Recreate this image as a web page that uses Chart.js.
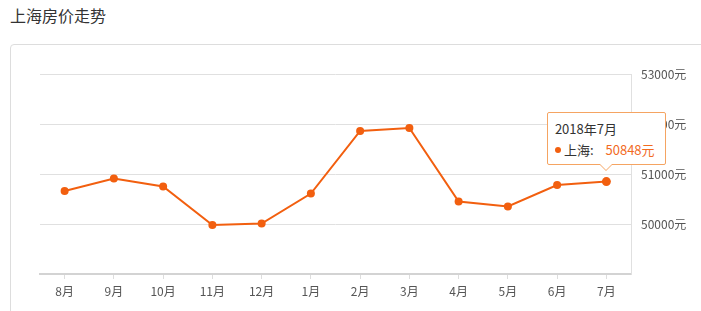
<!DOCTYPE html>
<html>
<head>
<meta charset="utf-8">
<script src="https://cdn.jsdelivr.net/npm/chart.js@4/dist/chart.umd.min.js"></script>
<style>
  html, body { margin: 0; padding: 0; background: #fff; width: 701px; height: 311px; overflow: hidden; }
  body { position: relative; font-family: 'Noto Sans CJK SC', 'Noto Sans', sans-serif; }
  #title { position: absolute; left: 10px; top: 4px; font-size: 16px; color: #333; line-height: 22px; }
  #card { position: absolute; left: 10px; top: 44px; width: 720px; height: 300px; border: 1px solid #ddd; border-radius: 4px; box-sizing: border-box; }
  #c { position: absolute; left: 0; top: 0; }
  #tip { position: absolute; background: #fff; border: 1px solid #f5a462; border-radius: 2px; box-sizing: border-box;
         font-size: 13px; color: #333; padding: 6px 7px 0 7px; display: none; white-space: nowrap; }
  #tip .t { line-height: 20px; height: 20px; }
  #tip .r { line-height: 20px; height: 20px; margin-top: 1px; }
  #tip .dot { display: inline-block; width: 6px; height: 6px; border-radius: 3px; background: #f25f0f; vertical-align: middle; margin: 0 3px 2px 0; }
  #tip .v { color: #f26b1f; margin-left: 12px; font-size: 13px; }
  #tip .arr, #tip .arr2 { position: absolute; left: 50%; width: 0; height: 0; border-style: solid; }
  #tip .arr { bottom: -7px; margin-left: -7px; border-width: 7px 7px 0 7px; border-color: #f5a462 transparent transparent transparent; }
  #tip .arr2 { bottom: -6px; margin-left: -6px; border-width: 6px 6px 0 6px; border-color: #fff transparent transparent transparent; }
</style>
</head>
<body>
<div id="title">上海房价走势</div>
<div id="card"></div>
<canvas id="c" width="701" height="311"></canvas>
<div id="tip"><div class="t"></div><div class="r"><span class="dot"></span><span class="n"></span><span class="v"></span></div><span class="arr"></span><span class="arr2"></span></div>
<script>
const months = ['8月','9月','10月','11月','12月','1月','2月','3月','4月','5月','6月','7月'];
const periods = ['2017年8月','2017年9月','2017年10月','2017年11月','2017年12月','2018年1月','2018年2月','2018年3月','2018年4月','2018年5月','2018年6月','2018年7月'];
const prices = [50660, 50910, 50750, 49980, 50010, 50610, 51860, 51920, 50450, 50350, 50780, 50848];
const seriesName = '上海';
const unit = '元';
const yMin = 49000, yMax = 53000, yStep = 1000;
const activeIndex = 11;

const FONT = "'Noto Sans CJK SC', 'Noto Sans', sans-serif";
const ORANGE = '#f25f0f';

function externalTip(ctx) {
  const tt = ctx.tooltip;
  const el = document.getElementById('tip');
  if (!tt || tt.opacity === 0 || !tt.dataPoints || !tt.dataPoints.length) { el.style.display = 'none'; return; }
  const dp = tt.dataPoints[0];
  el.querySelector('.t').textContent = periods[dp.dataIndex];
  el.querySelector('.n').textContent = seriesName + ':';
  el.querySelector('.v').textContent = prices[dp.dataIndex] + unit;
  el.style.display = 'block';
  const w = 119, h = 53;
  el.style.width = w + 'px';
  el.style.height = h + 'px';
  el.style.left = (tt.caretX - w / 2) + 'px';
  el.style.top = (tt.caretY - 17 - h) + 'px';
}

const chart = new Chart(document.getElementById('c'), {
  type: 'line',
  data: {
    labels: months,
    datasets: [{
      label: seriesName,
      data: prices,
      borderColor: ORANGE,
      backgroundColor: ORANGE,
      borderWidth: 2,
      pointRadius: 4,
      pointHoverRadius: 4.5,
      pointBackgroundColor: ORANGE,
      pointBorderColor: ORANGE,
      pointHoverBackgroundColor: ORANGE,
      pointHoverBorderColor: ORANGE,
      pointBorderWidth: 0,
      pointHoverBorderWidth: 0,
      tension: 0,
      fill: false
    }]
  },
  options: {
    responsive: false,
    devicePixelRatio: 1,
    animation: false,
    events: [],
    layout: { padding: { left: 40, top: 74, right: 0, bottom: 0 } },
    plugins: {
      legend: { display: false },
      title: { display: false },
      tooltip: { enabled: false, external: externalTip, mode: 'index', intersect: false }
    },
    scales: {
      x: {
        type: 'category',
        offset: true,
        afterFit: s => { s.height = 37; },
        grid: { offset: false, drawOnChartArea: false, drawTicks: true, tickLength: 5, color: '#ddd' },
        border: { display: true, color: '#d3d3d3', width: 2 },
        ticks: { color: '#555', padding: 5, font: { family: FONT, size: 12 }, maxRotation: 0, autoSkip: false }
      },
      y: {
        position: 'right',
        min: yMin, max: yMax,
        afterFit: s => { s.width = 70; },
        grid: { drawTicks: false, color: '#e0e0e0', lineWidth: 1 },
        border: { display: true, color: '#e0e0e0', width: 1 },
        ticks: {
          stepSize: yStep, padding: 10, color: '#555',
          font: { family: FONT, size: 12 },
          callback: v => (v === yMin ? '' : v + unit)
        }
      }
    }
  }
});

const meta = chart.getDatasetMeta(0);
const pt = meta.data[activeIndex];
chart.setActiveElements([{ datasetIndex: 0, index: activeIndex }]);
chart.tooltip.setActiveElements([{ datasetIndex: 0, index: activeIndex }], { x: pt.x, y: pt.y });
chart.update();
</script>
</body>
</html>
